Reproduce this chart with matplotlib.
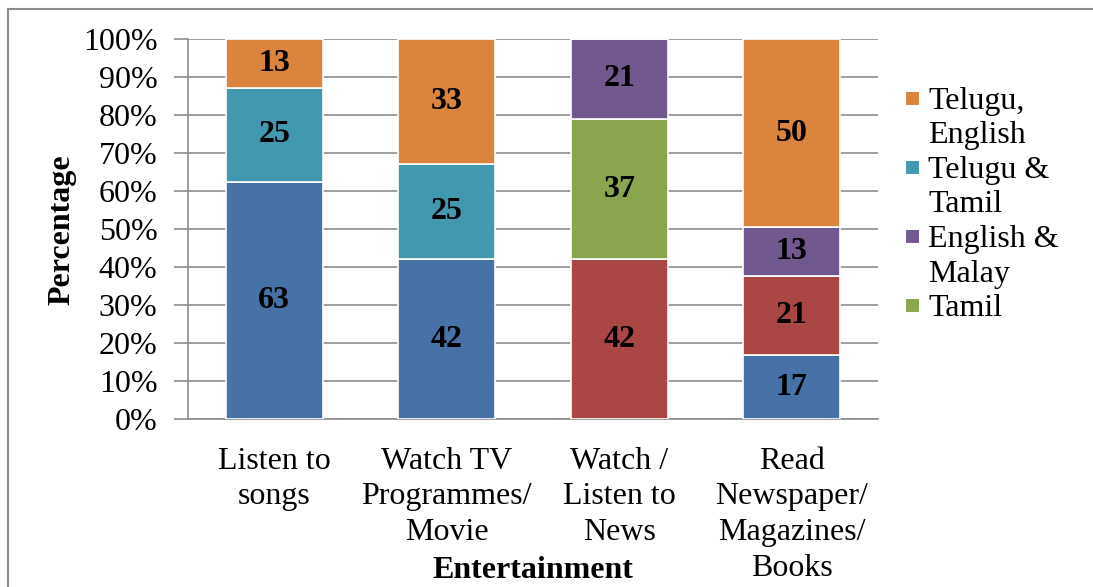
import numpy as np
import matplotlib.pyplot as plt
from matplotlib.patches import Rectangle

plt.rcParams['font.family'] = ['Liberation Serif', 'DejaVu Serif']

categories = ["Listen to\nsongs", "Watch TV\nProgrammes/\nMovie",
              "Watch /\nListen to\nNews", "Read\nNewspaper/\nMagazines/\nBooks"]

# series in stacking order (bottom -> top); values as printed on the bars
s_blue = [63, 42, 0, 17]
s_red = [0, 0, 42, 21]
s_tamil = [0, 0, 37, 0]
s_telugu_tamil = [25, 25, 0, 0]
s_english_malay = [0, 0, 21, 13]
s_telugu_english = [13, 33, 0, 50]

series = [
    ("_blue", s_blue, "#4672A8"),
    ("_red", s_red, "#AA4643"),
    ("Tamil", s_tamil, "#89A54E"),
    ("Telugu &\nTamil", s_telugu_tamil, "#4198AF"),
    ("English &\nMalay", s_english_malay, "#71588F"),
    ("Telugu,\nEnglish", s_telugu_english, "#DB843D"),
]
legend_order = ["Telugu,\nEnglish", "Telugu &\nTamil", "English &\nMalay", "Tamil"]

FS = 23
W, H = 1093, 587

fig = plt.figure(figsize=(10.93, 5.87), dpi=100)
ax = fig.add_axes([188 / W, 1 - 419 / H, 690 / W, 380 / H])

# outer chart frame
fig.patches.append(Rectangle((8 / W, -0.1), 1.2, 1 - 9 / H + 0.1,
                             transform=fig.transFigure, fill=False,
                             edgecolor="#8c8c8c", linewidth=1.5))

x = np.arange(len(categories))
totals = np.sum([s[1] for s in series], axis=0).astype(float)
bottom = np.zeros(len(categories))
colors = {}
for name, vals, color in series:
    vals = np.array(vals, dtype=float)
    pct = vals / totals * 100
    ax.bar(x, pct, 0.56, bottom=bottom, color=color, edgecolor="white",
           linewidth=1.2, label=name, zorder=3)
    colors[name] = color
    for xi, v, p, b in zip(x, vals, pct, bottom):
        if v > 0:
            ax.text(xi, b + p / 2, f"{int(v)}", ha="center", va="center",
                    fontsize=FS, fontweight="bold", zorder=4)
    bottom += pct

ax.set_xlim(-0.5, 3.5)
ax.set_ylim(0, 100)
ax.set_yticks(np.arange(0, 101, 10))
ax.set_yticklabels([f"{v}%" for v in range(0, 101, 10)], fontsize=FS)
ax.set_xticks(x)
ax.set_xticklabels(categories, fontsize=FS, linespacing=1.3)
ax.tick_params(axis="x", length=0, pad=20)
ax.tick_params(axis="y", length=10, color="#8c8c8c", width=1.2, pad=12)
ax.yaxis.grid(True, color="#8c8c8c", linewidth=1.2, zorder=0)
for side in ["top", "right"]:
    ax.spines[side].set_visible(False)
for side in ["left", "bottom"]:
    ax.spines[side].set_color("#8c8c8c")
    ax.spines[side].set_linewidth(1.2)

fig.text(62 / W, 1 - 230 / H, "Percentage", ha="center", va="center",
         rotation=90, fontsize=FS, fontweight="bold")
fig.text(533 / W, 1 - 570 / H, "Entertainment", ha="center", va="center",
         fontsize=FS, fontweight="bold")

# legend drawn by hand: marker sits on the first line of each label (Excel style)
line_h = 34.5
y = 98
for name in legend_order:
    lines = name.split("\n")
    fig.patches.append(Rectangle((905 / W, 1 - (y + 7) / H), 14 / W, 14 / H,
                                 transform=fig.transFigure,
                                 facecolor=colors[name], edgecolor="white",
                                 linewidth=0.8))
    for ln in lines:
        fig.text(928 / W, 1 - y / H, ln, ha="left", va="center_baseline",
                 fontsize=FS)
        y += line_h

fig.savefig("out.png", dpi=100)
